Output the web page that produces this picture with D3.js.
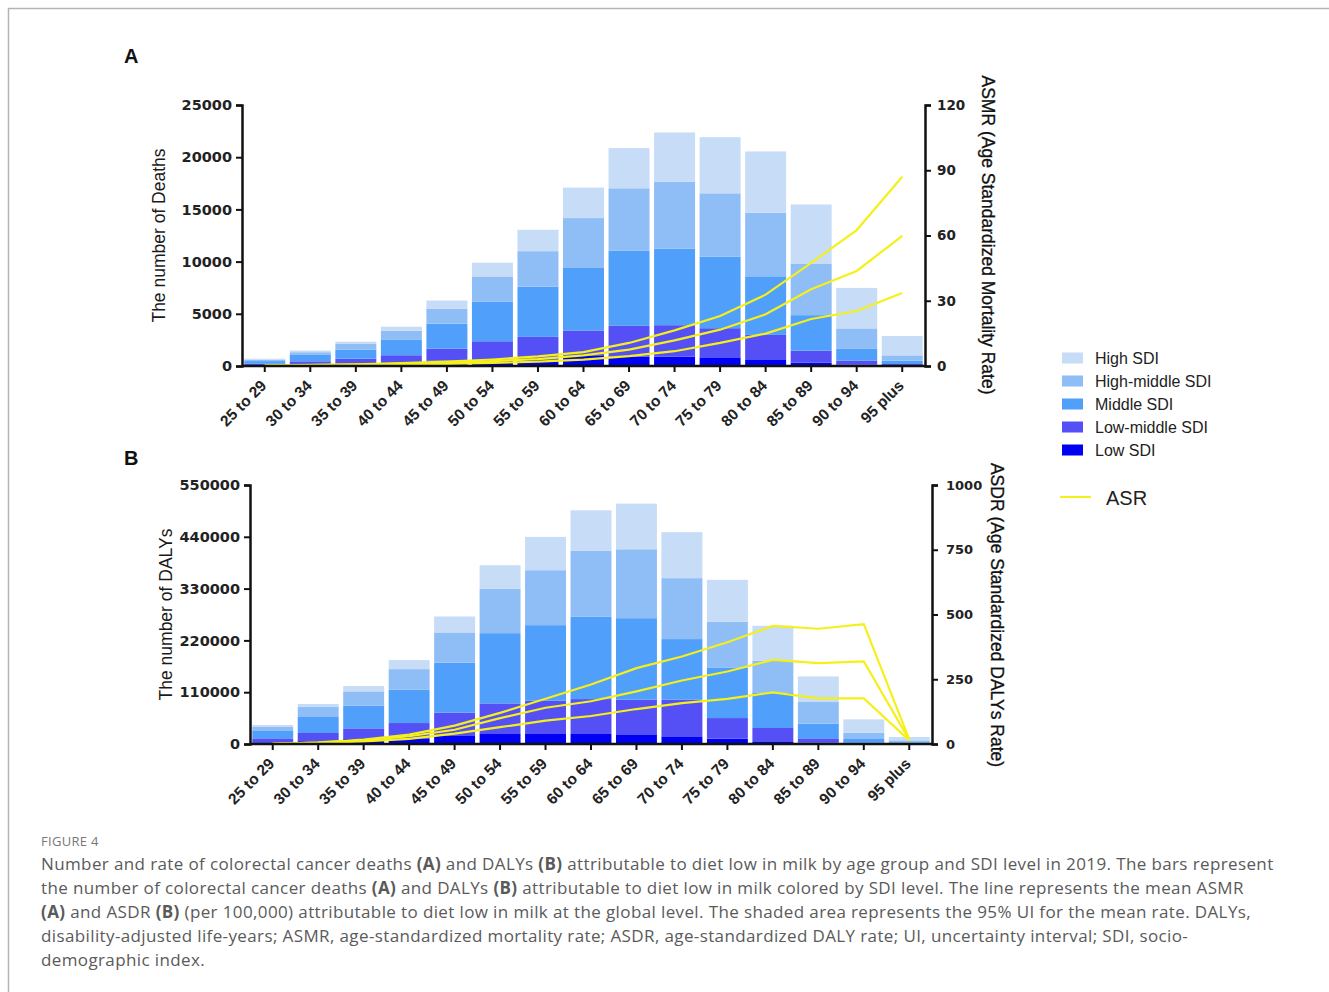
<!DOCTYPE html>
<html>
<head>
<meta charset="utf-8">
<script src="https://cdn.jsdelivr.net/npm/d3@7"></script>
<style>
  body { margin: 0; background: #fff; }
  svg { display: block; }
</style>
</head>
<body>
<div class="chart"></div>
<script>
// age groups and SDI levels
const ageGroups = ["25 to 29", "30 to 34", "35 to 39", "40 to 44", "45 to 49", "50 to 54", "55 to 59",
  "60 to 64", "65 to 69", "70 to 74", "75 to 79", "80 to 84", "85 to 89", "90 to 94", "95 plus"];
const sdiLevels = ["Low SDI", "Low-middle SDI", "Middle SDI", "High-middle SDI", "High SDI"];

// A: number of deaths by SDI level
const deathsLow        = [60, 190, 190, 260, 510, 640, 580, 960, 900, 900, 830, 640, 320, 130, 60];
const deathsLowMiddle  = [150, 260, 510, 770, 1150, 1730, 2210, 2440, 2950, 3010, 2790, 2340, 1150, 390, 130];
const deathsMiddle     = [260, 610, 860, 1470, 2400, 3810, 4810, 5990, 7210, 7340, 6860, 5610, 3400, 1120, 320];
const deathsHighMiddle = [130, 260, 550, 870, 1440, 2400, 3400, 4780, 5960, 6410, 6060, 6090, 4900, 1960, 510];
const deathsHigh       = [100, 160, 220, 390, 770, 1310, 2050, 2920, 3850, 4710, 5380, 5870, 5700, 3880, 1860];

// A: ASMR mean and 95% UI
const asmrUpper = [0.3, 0.5, 0.8, 1.3, 2.0, 3.0, 4.4, 6.4, 10.6, 16.4, 23.0, 32.8, 47.4, 62.5, 87.0];
const asmrMean  = [0.2, 0.4, 0.6, 1.0, 1.5, 2.2, 3.2, 4.9, 7.5, 11.8, 16.7, 23.8, 35.3, 43.7, 59.8];
const asmrLower = [0.1, 0.2, 0.4, 0.6, 1.0, 1.4, 2.0, 2.9, 4.5, 6.8, 10.6, 14.9, 21.6, 25.3, 33.6];

// B: number of DALYs by SDI level
const dalysLow        = [3500, 7800, 10600, 12000, 18400, 21200, 21200, 21200, 19100, 16300, 11300, 5700, 2800, 700, 400];
const dalysLowMiddle  = [8500, 15600, 22600, 32500, 48100, 65000, 70700, 74200, 74900, 77800, 43800, 28300, 9200, 2100, 1100];
const dalysMiddle     = [17000, 33900, 48100, 70700, 106100, 149200, 160500, 174600, 173200, 128700, 107500, 75600, 31100, 7800, 2100];
const dalysHighMiddle = [7100, 21200, 30400, 43800, 64300, 94000, 116700, 140000, 146300, 129400, 96900, 67200, 46000, 13400, 4200];
const dalysHigh       = [4200, 6400, 11300, 19100, 33900, 50200, 70700, 86300, 96900, 97600, 89100, 74200, 54400, 28300, 7100];

// B: ASDR mean and 95% UI
const asdrUpper = [2, 6, 17, 36, 71, 120, 175, 230, 293, 338, 393, 456, 445, 463, 18];
const asdrMean  = [1, 5, 14, 30, 55, 100, 140, 165, 203, 245, 280, 325, 312, 319, 16];
const asdrLower = [1, 4, 10, 20, 40, 65, 90, 108, 135, 158, 174, 199, 176, 176, 14];

// tick labels
const deathTicks = [0, 5000, 10000, 15000, 20000, 25000];
const asmrTicks = [0, 30, 60, 90, 120];
const dalyTicks = [0, 110000, 220000, 330000, 440000, 550000];
const asdrTicks = [0, 250, 500, 750, 1000];

const colors = {
  "Low SDI": "#0000f2",
  "Low-middle SDI": "#5550f5",
  "Middle SDI": "#509ffb",
  "High-middle SDI": "#8fbdf6",
  "High SDI": "#c7dcf6"
};
const lineColor = "#f5f01a";

const W = 1329, H = 992;
const svg = d3.select(".chart").append("svg").attr("width", W).attr("height", H);

// figure frame
svg.append("path").attr("d", "M8.5,992V8.5H1329").attr("fill", "none").attr("stroke", "#b4b4b4").attr("stroke-width", 1.5);

const tickFont = "'DejaVu Sans', sans-serif";
const textFont = "'Liberation Sans', Arial, sans-serif";

function panel(cfg) {
  const g = svg.append("g");
  const x = d3.scaleBand().domain(ageGroups).range([cfg.x0, cfg.x1]).paddingInner(0.1).paddingOuter(0.05);
  const y = d3.scaleLinear().domain([0, cfg.yMax]).range([cfg.yBottom, cfg.yTop]);
  const yR = d3.scaleLinear().domain([0, cfg.rMax]).range([cfg.yBottom, cfg.yTop]);

  const rows = ageGroups.map((a, i) => {
    const r = { age: a };
    sdiLevels.forEach(k => r[k] = cfg.series[k][i]);
    return r;
  });
  const stack = d3.stack().keys(sdiLevels)(rows);

  g.append("g").selectAll("g").data(stack).join("g")
    .attr("fill", d => colors[d.key])
    .selectAll("rect").data(d => d).join("rect")
    .attr("x", d => x(d.data.age))
    .attr("width", x.bandwidth())
    .attr("y", d => y(d[1]))
    .attr("height", d => y(d[0]) - y(d[1]));

  const line = d3.line().x((d, i) => x(ageGroups[i]) + x.bandwidth() / 2).y(d => yR(d));
  g.append("g").selectAll("path").data(cfg.lines).join("path")
    .attr("d", line)
    .attr("fill", "none")
    .attr("stroke", lineColor)
    .attr("stroke-width", 2.2);

  // axes
  const styleAxis = sel => {
    sel.select(".domain").attr("stroke", "#111").attr("stroke-width", 2.5);
    sel.selectAll(".tick line").attr("stroke", "#111").attr("stroke-width", 2);
    sel.selectAll("text").attr("fill", "#222").attr("font-family", tickFont).attr("font-weight", "bold");
  };

  g.append("g").attr("transform", `translate(${cfg.x0},0)`)
    .call(d3.axisLeft(y).tickValues(cfg.yTicks).tickFormat(d3.format("d")).tickSizeOuter(0).tickSize(6).tickPadding(4))
    .call(styleAxis)
    .selectAll("text").attr("font-size", 14.5);

  g.append("g").attr("transform", `translate(${cfg.x1},0)`)
    .call(d3.axisRight(yR).tickValues(cfg.rTicks).tickFormat(d3.format("d")).tickSizeOuter(0).tickSize(6).tickPadding(cfg.rPad))
    .call(styleAxis)
    .selectAll("text").attr("font-size", cfg.rSize);

  const xa = g.append("g").attr("transform", `translate(0,${cfg.yBottom})`)
    .call(d3.axisBottom(x).tickSizeOuter(0).tickSize(6))
    .call(styleAxis);
  xa.select(".domain").attr("d", `M${cfg.x0},0H${cfg.x1}`);
  xa.selectAll("text")
    .attr("font-family", textFont)
    .attr("font-size", 15.5)
    .attr("text-anchor", "end")
    .attr("transform", "translate(-12,6) rotate(-45)")
    .attr("dy", "0.75em");

  // titles
  svg.append("text").attr("x", cfg.letterX).attr("y", cfg.letterY)
    .attr("font-family", textFont).attr("font-weight", "bold").attr("font-size", 20).attr("fill", "#111")
    .text(cfg.letter);

  const yMid = (cfg.yTop + cfg.yBottom) / 2;
  svg.append("text")
    .attr("transform", `translate(${cfg.leftTitleX},${yMid}) rotate(-90)`)
    .attr("text-anchor", "middle").attr("dy", "0.35em")
    .attr("font-family", textFont).attr("font-size", 17.5).attr("fill", "#1a1a1a")
    .text(cfg.leftTitle);
  svg.append("text")
    .attr("transform", `translate(${cfg.rightTitleX},${cfg.rightTitleY}) rotate(90)`)
    .attr("text-anchor", "middle").attr("dy", "0.35em")
    .attr("font-family", textFont).attr("font-size", 17.5).attr("fill", "#111")
    .attr("stroke", "#111").attr("stroke-width", 0.3)
    .text(cfg.rightTitle);
}

panel({
  x0: 242, x1: 925, yTop: 105, yBottom: 366,
  yMax: 25000, rMax: 120, yTicks: deathTicks, rTicks: asmrTicks, rPad: 6, rSize: 13.5,
  series: {
    "Low SDI": deathsLow, "Low-middle SDI": deathsLowMiddle, "Middle SDI": deathsMiddle,
    "High-middle SDI": deathsHighMiddle, "High SDI": deathsHigh
  },
  lines: [asmrUpper, asmrMean, asmrLower],
  letter: "A", letterX: 124, letterY: 63,
  leftTitle: "The number of Deaths", leftTitleX: 159,
  rightTitle: "ASMR (Age Standardized Mortality Rate)", rightTitleX: 988, rightTitleY: 235
});

panel({
  x0: 250, x1: 932, yTop: 485, yBottom: 744,
  yMax: 550000, rMax: 1000, yTicks: dalyTicks, rTicks: asdrTicks, rPad: 8, rSize: 13,
  series: {
    "Low SDI": dalysLow, "Low-middle SDI": dalysLowMiddle, "Middle SDI": dalysMiddle,
    "High-middle SDI": dalysHighMiddle, "High SDI": dalysHigh
  },
  lines: [asdrUpper, asdrMean, asdrLower],
  letter: "B", letterX: 124, letterY: 465,
  leftTitle: "The number of DALYs", leftTitleX: 166,
  rightTitle: "ASDR (Age Standardized DALYs Rate)", rightTitleX: 997, rightTitleY: 615
});

// legend
const legend = svg.append("g").attr("font-family", textFont).attr("fill", "#222");
const legendKeys = sdiLevels.slice().reverse();
legendKeys.forEach((k, i) => {
  const cy = 358 + i * 23;
  legend.append("rect").attr("x", 1062).attr("y", cy - 5.5).attr("width", 21).attr("height", 11).attr("fill", colors[k]);
  legend.append("text").attr("x", 1095).attr("y", cy).attr("dy", "0.36em").attr("font-size", 16).text(k);
});
legend.append("line").attr("x1", 1060).attr("x2", 1091).attr("y1", 497).attr("y2", 497)
  .attr("stroke", lineColor).attr("stroke-width", 2);
legend.append("text").attr("x", 1106).attr("y", 498).attr("dy", "0.36em").attr("font-size", 20).text("ASR");

// caption
const cap = svg.append("g").attr("font-family", "'Open Sans', sans-serif").attr("fill", "#5a5a5a");
cap.append("text").attr("x", 41).attr("y", 846).attr("font-size", 13).attr("letter-spacing", 0.3).attr("fill", "#777").text("FIGURE 4");
const captionLines = [
  [["Number and rate of colorectal cancer deaths ", 0], ["(A)", 1], [" and DALYs ", 0], ["(B)", 1], [" attributable to diet low in milk by age group and SDI level in 2019. The bars represent", 0]],
  [["the number of colorectal cancer deaths ", 0], ["(A)", 1], [" and DALYs ", 0], ["(B)", 1], [" attributable to diet low in milk colored by SDI level. The line represents the mean ASMR", 0]],
  [["(A)", 1], [" and ASDR ", 0], ["(B)", 1], [" (per 100,000) attributable to diet low in milk at the global level. The shaded area represents the 95% UI for the mean rate. DALYs,", 0]],
  [["disability-adjusted life-years; ASMR, age-standardized mortality rate; ASDR, age-standardized DALY rate; UI, uncertainty interval; SDI, socio-", 0]],
  [["demographic index.", 0]]
];
captionLines.forEach((parts, i) => {
  const t = cap.append("text").attr("x", 41).attr("y", 870 + i * 24).attr("font-size", 17).attr("letter-spacing", 0.38);
  parts.forEach(([s, b]) => t.append("tspan").attr("font-weight", b ? "bold" : null).text(s));
});
</script>
</body>
</html>
